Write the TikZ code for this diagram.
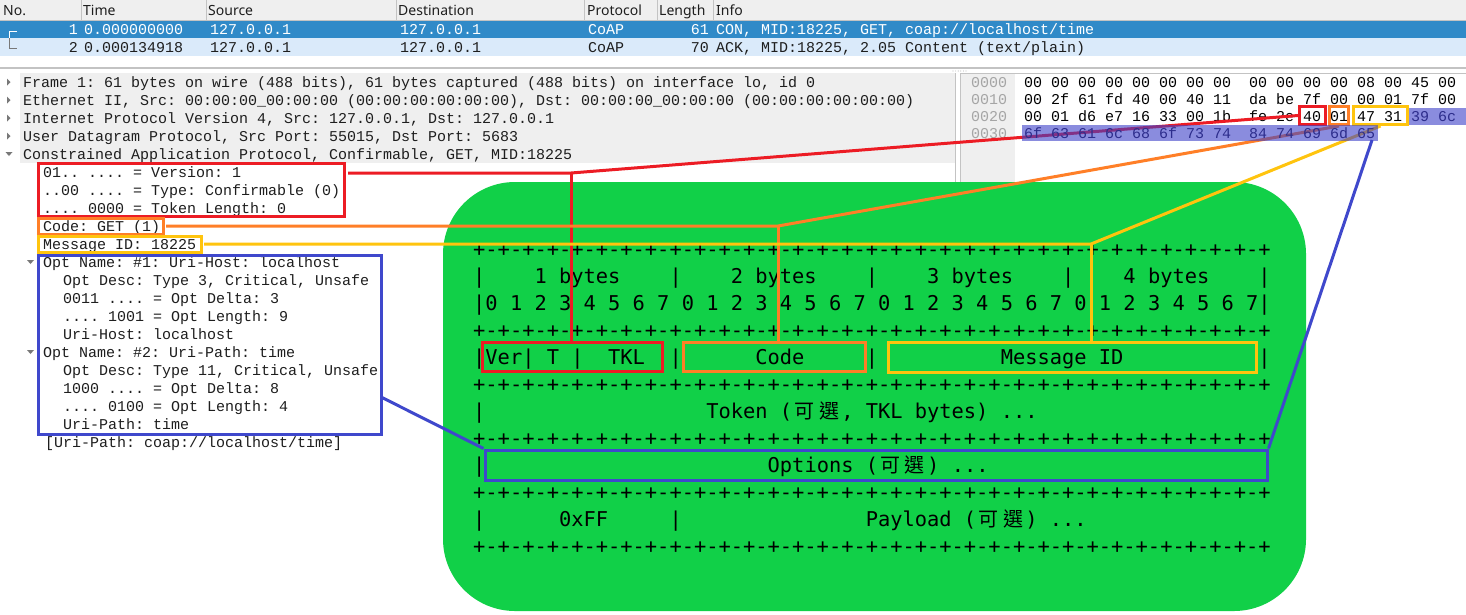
\documentclass[tikz,border=0pt]{standalone}
\usepackage{fontspec}
\setmainfont{Noto Sans}
\newfontfamily\wsmono{Liberation Mono}
\newfontfamily\tblmono{DejaVu Sans Mono}
\newfontfamily\cjk{Noto Sans CJK TC}
\newcommand\cjc[1]{\makebox[24.54pt][c]{\cjk\fontsize{20}{24}\selectfont #1}}
\definecolor{selrow}{RGB}{48,138,200}
\definecolor{rowtwo}{RGB}{218,234,250}
\definecolor{panegray}{RGB}{239,239,239}
\definecolor{linegray}{RGB}{195,195,195}
\definecolor{offgray}{RGB}{165,165,165}
\definecolor{cgreen}{RGB}{17,208,72}
\definecolor{cred}{RGB}{236,28,36}
\definecolor{corange}{RGB}{255,127,39}
\definecolor{cyellow}{RGB}{255,196,14}
\definecolor{cblue}{RGB}{63,72,204}
\definecolor{hlblue}{RGB}{60,64,200}
\definecolor{hltext}{RGB}{45,45,140}
\definecolor{txt}{RGB}{30,30,30}
\definecolor{tri}{RGB}{120,120,120}
\def\dashrow{+-+-+-+-+-+-+-+-+-+-+-+-+-+-+-+-+-+-+-+-+-+-+-+-+-+-+-+-+-+-+-+-+}
\frenchspacing
\begin{document}
\frenchspacing
\begin{tikzpicture}[x=1pt,y=-1pt,
  hdr/.style={anchor=base west,inner sep=0,font=\fontsize{14}{16}\selectfont,text=txt},
  ws/.style={anchor=base west,inner sep=0,font=\wsmono\fontsize{15}{18}\selectfont\frenchspacing,text=txt},
  wsr/.style={ws,anchor=base east},
  tb/.style={anchor=base west,inner sep=0,font=\tblmono\fontsize{20.38}{24}\selectfont\frenchspacing,text=black},
  hlbox/.style={draw=#1,line width=3pt,inner sep=0,fill=none},
  lnk/.style={line width=3pt,#1},
  sep/.style={draw=linegray,line width=1pt},
]
\useasboundingbox (0,0) rectangle (1466,614);
\fill[white] (0,0) rectangle (1466,614);

% ---------- packet list ----------
\fill[panegray] (0,0) rectangle (1466,20);
\draw[sep] (0,20.5) -- (1466,20.5);
\foreach \xs in {81,206,396,584,657,713} \draw[sep] (\xs,0) -- (\xs,20);
\node[hdr] (hNo) at (3,15) {No.};
\node[hdr] (hTime) at (83,15) {Time};
\node[hdr] (hSrc) at (208,15) {Source};
\node[hdr] (hDst) at (398,15) {Destination};
\node[hdr] (hProto) at (587,15) {Protocol};
\node[hdr] (hLen) at (659,15) {Length};
\node[hdr] (hInfo) at (716,15) {Info};

\fill[selrow] (0,21) rectangle (1466,38);
\fill[rowtwo] (0,38) rectangle (1466,56);
\draw[white,line width=1pt] (17,31) -- (9,31) -- (9,38);
\draw[tri,line width=1pt] (9,38) -- (9,48) -- (17,48);
\node[wsr,text=white] (r1no) at (78,34.5) {1};
\node[ws,text=white] (r1t) at (84,34.5) {0.000000000};
\node[ws,text=white] (r1s) at (210,34.5) {127.0.0.1};
\node[ws,text=white] (r1d) at (400,34.5) {127.0.0.1};
\node[ws,text=white] (r1p) at (588,34.5) {CoAP};
\node[wsr,text=white] (r1l) at (709,34.5) {61};
\node[ws,text=white] (r1i) at (716,34.5) {CON, MID:18225, GET, coap://localhost/time};
\node[wsr] (r2no) at (78,52) {2};
\node[ws] (r2t) at (84,52) {0.000134918};
\node[ws] (r2s) at (210,52) {127.0.0.1};
\node[ws] (r2d) at (400,52) {127.0.0.1};
\node[ws] (r2p) at (588,52) {CoAP};
\node[wsr] (r2l) at (709,52) {70};
\node[ws] (r2i) at (716,52) {ACK, MID:18225, 2.05 Content (text/plain)};

% ---------- pane separator ----------
\draw[draw=linegray,line width=2pt] (0,68) -- (1466,68);
\foreach \k in {0,...,5} \fill[linegray] (953+2.6*\k,71) circle (0.6);

% ---------- details pane ----------
\fill[panegray] (20,73) rectangle (955,163);
\draw[sep] (955.5,73) -- (955.5,182);
\draw[sep] (960.5,73) -- (960.5,182);
\draw[sep] (960,73.5) -- (1466,73.5);
\fill[panegray] (961,74) rectangle (1015,182);

\foreach \yc in {82,100,118,136} \fill[tri] (7,\yc-3.5) -- (10.5,\yc) -- (7,\yc+3.5) -- cycle;
\fill[tri] (5.5,152) -- (12.5,152) -- (9,156) -- cycle;
\fill[tri] (27,260) -- (34,260) -- (30.5,264) -- cycle;
\fill[tri] (27,350) -- (34,350) -- (30.5,354) -- cycle;

\node[ws] (dFrame) at (23,87) {Frame 1: 61 bytes on wire (488 bits), 61 bytes captured (488 bits) on interface lo, id 0};
\node[ws] (dEth) at (23,105) {Ethernet II, Src: 00:00:00\_00:00:00 (00:00:00:00:00:00), Dst: 00:00:00\_00:00:00 (00:00:00:00:00:00)};
\node[ws] (dIP) at (23,123) {Internet Protocol Version 4, Src: 127.0.0.1, Dst: 127.0.0.1};
\node[ws] (dUDP) at (23,141) {User Datagram Protocol, Src Port: 55015, Dst Port: 5683};
\node[ws] (dCoAP) at (23,159) {Constrained Application Protocol, Confirmable, GET, MID:18225};
\node[ws] (dVer) at (43,177) {01.. .... = Version: 1};
\node[ws] (dType) at (43,195) {..00 .... = Type: Confirmable (0)};
\node[ws] (dTKL) at (43,213) {.... 0000 = Token Length: 0};
\node[ws] (dCode) at (43,231) {Code: GET (1)};
\node[ws] (dMID) at (43,249) {Message ID: 18225};
\node[ws] (dO1) at (43,267) {Opt Name: \#1: Uri-Host: localhost};
\node[ws] (dO1a) at (63,285) {Opt Desc: Type 3, Critical, Unsafe};
\node[ws] (dO1b) at (63,303) {0011 .... = Opt Delta: 3};
\node[ws] (dO1c) at (63,321) {.... 1001 = Opt Length: 9};
\node[ws] (dO1d) at (63,339) {Uri-Host: localhost};
\node[ws] (dO2) at (43,357) {Opt Name: \#2: Uri-Path: time};
\node[ws] (dO2a) at (63,375) {Opt Desc: Type 11, Critical, Unsafe};
\node[ws] (dO2b) at (63,393) {1000 .... = Opt Delta: 8};
\node[ws] (dO2c) at (63,411) {.... 0100 = Opt Length: 4};
\node[ws] (dO2d) at (63,429) {Uri-Path: time};
\node[ws] (dPath) at (45,447) {[Uri-Path: coap://localhost/time]};

% ---------- bytes pane ----------
\node[ws,text=offgray] (o0) at (971,87) {0000};
\node[ws,text=offgray] (o1) at (971,104) {0010};
\node[ws,text=offgray] (o2) at (971,121) {0020};
\node[ws,text=offgray] (o3) at (971,138) {0030};
\node[ws,text=black] (x0) at (1024,87) {00 00 00 00 00 00 00 00~~00 00 00 00 08 00 45 00};
\node[ws,text=black] (x1) at (1024,104) {00 2f 61 fd 40 00 40 11~~da be 7f 00 00 01 7f 00};
\node[ws,text=black] (x2) at (1024,121) {00 01 d6 e7 16 33 00 1b~~fe 2e 40 01 47 31};

% ---------- green frame ----------
\fill[cgreen,rounded corners=72] (443,182) rectangle (1306,611);

% ---------- table ----------
\node[tb] (t0) at (473,256) {\dashrow};
\node[tb] (t1) at (473,283) {|~~~~1~bytes~~~~|~~~~2~bytes~~~~|~~~~3~bytes~~~~|~~~~4~bytes~~~~|};
\node[tb] (t2) at (473,310) {|0~1~2~3~4~5~6~7~0~1~2~3~4~5~6~7~0~1~2~3~4~5~6~7~0~1~2~3~4~5~6~7|};
\node[tb] (t3) at (473,337) {\dashrow};
\node[tb] (t4) at (473,364) {|Ver|~T~|~~TKL~~|~~~~~~Code~~~~~|~~~~~~~~~~Message~ID~~~~~~~~~~~|};
\node[tb] (t5) at (473,391) {\dashrow};
\node[tb] (t6a) at (473,418) {|};
\node[tb] (t6b) at (706.1,418) {Token~(\cjc{可}\cjc{選},~TKL~bytes)~...};
\node[tb] (t7) at (473,445) {\dashrow};
\node[tb] (t8a) at (473,472) {|};
\node[tb] (t8b) at (767.5,472) {Options~(\cjc{可}\cjc{選})~...};
\node[tb] (t9) at (473,499) {\dashrow};
\node[tb] (t10a) at (473,526) {|};
\node[tb] (t10b) at (558.9,526) {0xFF};
\node[tb] (t10c) at (669.3,526) {|};
\node[tb] (t10d) at (865.6,526) {Payload~(\cjc{可}\cjc{選})~...};
\node[tb] (t11) at (473,553) {\dashrow};

% ---------- highlight boxes ----------
\node[hlbox=cred,minimum width=306,minimum height=53] (lred) at (191,189.5) {};
\node[hlbox=corange,minimum width=125,minimum height=16] (lorange) at (100.5,226) {};
\node[hlbox=cyellow,minimum width=163,minimum height=16] (lyellow) at (119.5,244) {};
\node[hlbox=cblue,minimum width=343,minimum height=179] (lblue) at (209.5,344.5) {};

\node[hlbox=cred,minimum width=180,minimum height=29] (verbox) at (572,356.5) {};
\node[hlbox=corange,minimum width=182,minimum height=29] (codebox) at (774,356.5) {};
\node[hlbox=cyellow,minimum width=368,minimum height=30] (msgbox) at (1072,357) {};
\node[hlbox=cblue,minimum width=782,minimum height=30] (optbox) at (876,465) {};

\node[hlbox=cred,minimum width=26,minimum height=18] (hred) at (1312.5,115.5) {};
\node[hlbox=corange,minimum width=19,minimum height=18] (horange) at (1339,115.5) {};
\node[hlbox=cyellow,minimum width=54,minimum height=18] (hyellow) at (1380.5,115.5) {};

% ---------- connectors ----------
\coordinate (rs) at (348,173);
\coordinate (rj) at (571,173);
\coordinate (os) at (166,226);
\coordinate (oj) at (778,226);
\coordinate (ys) at (204,244);
\coordinate (yj) at (1091,244);
\coordinate (bs) at (381,397);
\coordinate (be) at (1372,140);

\draw[lnk=cred] (rs) -- (rj) -- (hred.west);
\draw[lnk=cred] (rj) -- (rj |- verbox.north);
\draw[lnk=corange] (os) -- (oj) -- (horange.south);
\draw[lnk=corange] (oj) -- (oj |- codebox.north);
\draw[lnk=cyellow] (ys) -- (yj) -- (hyellow.south);
\draw[lnk=cyellow] (yj) -- (yj |- msgbox.north);
\draw[lnk=cblue] (bs) -- (optbox.north west);
\draw[lnk=cblue] (optbox.north east) -- (be);

% ---------- selected bytes ----------
\node[fill=hlblue,opacity=0.6,inner sep=0,minimum width=57,minimum height=17] (hl2) at (1437.5,116.5) {};
\node[fill=hlblue,opacity=0.6,inner sep=0,minimum width=356,minimum height=16] (hl3) at (1200,133) {};
\node[ws,text=hltext] (x2b) at (1411,121) {39 6c};
\node[ws,text=hltext] (x3) at (1024,138) {6f 63 61 6c 68 6f 73 74~~84 74 69 6d 65};
\end{tikzpicture}
\end{document}
